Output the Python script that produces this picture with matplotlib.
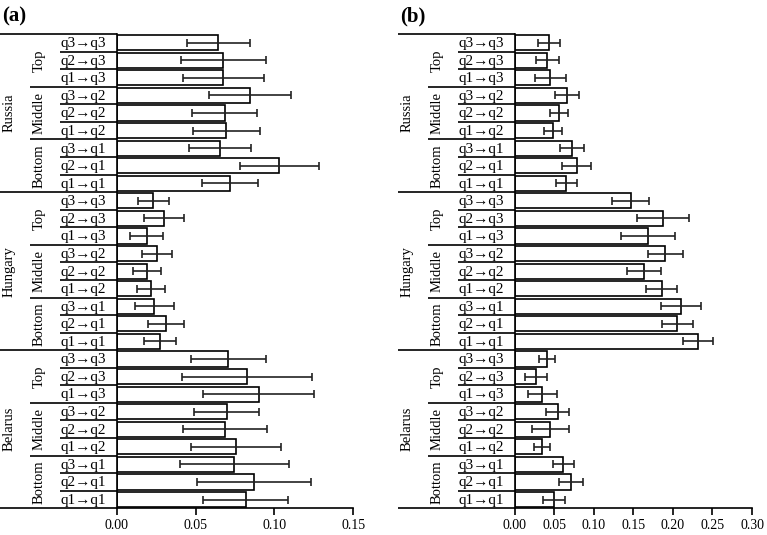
import matplotlib
matplotlib.use('Agg')
import matplotlib.pyplot as plt

plt.rcParams['font.family'] = ['Liberation Serif', 'DejaVu Serif']

# Category labels (top to bottom within each country)
transitions = ['q3→q3', 'q2→q3', 'q1→q3', 'q3→q2', 'q2→q2', 'q1→q2',
               'q3→q1', 'q2→q1', 'q1→q1']
levels = ['Top', 'Middle', 'Bottom']
countries = ['Russia', 'Hungary', 'Belarus']

# Panel (a) values and error half-widths
russia_a = [0.0645, 0.0675, 0.0675, 0.0842, 0.0685, 0.0696, 0.0655, 0.1032, 0.0719]
russia_a_err = [0.0197, 0.027, 0.0256, 0.026, 0.0207, 0.021, 0.0197, 0.025, 0.0176]
hungary_a = [0.0233, 0.030, 0.019, 0.0256, 0.0192, 0.022, 0.0239, 0.0315, 0.0275]
hungary_a_err = [0.010, 0.0127, 0.0106, 0.0097, 0.0087, 0.0089, 0.0126, 0.0114, 0.010]
belarus_a = [0.0708, 0.0827, 0.0899, 0.0698, 0.0685, 0.0759, 0.0746, 0.0869, 0.0819]
belarus_a_err = [0.024, 0.041, 0.035, 0.0207, 0.0267, 0.0285, 0.0345, 0.036, 0.027]

# Panel (b) values and error half-widths
russia_b = [0.0434, 0.0413, 0.0451, 0.0662, 0.056, 0.048, 0.0729, 0.0784, 0.0653]
russia_b_err = [0.014, 0.0147, 0.0196, 0.0148, 0.0116, 0.0114, 0.0152, 0.018, 0.013]
hungary_b = [0.1467, 0.1875, 0.169, 0.1905, 0.1635, 0.1858, 0.2103, 0.2056, 0.2314]
hungary_b_err = [0.0234, 0.033, 0.034, 0.022, 0.021, 0.0195, 0.0255, 0.0194, 0.019]
belarus_b = [0.0405, 0.027, 0.035, 0.0544, 0.0451, 0.0341, 0.0615, 0.0712, 0.0497]
belarus_b_err = [0.0103, 0.0137, 0.0183, 0.0145, 0.0232, 0.0103, 0.0135, 0.015, 0.0133]

ticks_a = [0.00, 0.05, 0.10, 0.15]
ticks_b = [0.00, 0.05, 0.10, 0.15, 0.20, 0.25, 0.30]

W, H = 767, 535
fig = plt.figure(figsize=(W / 100, H / 100), dpi=100)

LW = 1.2


def draw_panel(left_px, right_px, vals, errs, ticks, letter):
    ax = fig.add_axes([left_px / W, 26.7 / H, (right_px - left_px) / W, 474.3 / H])
    n = len(vals)
    y = list(range(n))
    ax.barh(y, vals, height=0.86, color='white', edgecolor='black', linewidth=LW)
    ax.errorbar(vals, y, xerr=errs, fmt='none', ecolor='#222222',
                elinewidth=LW, capsize=2.6, capthick=LW)
    ax.set_ylim(n - 0.5, -0.5)
    ax.set_xlim(ticks[0], ticks[-1])
    ax.set_xticks(ticks)
    ax.set_xticklabels([f'{t:.2f}' for t in ticks])
    ax.set_yticks([])
    for s in ['top', 'right']:
        ax.spines[s].set_visible(False)
    ax.spines['left'].set_linewidth(LW)
    ax.spines['bottom'].set_linewidth(LW)
    ax.tick_params(axis='x', direction='out', length=5, width=LW,
                   labelsize=10, pad=3)

    wpx = right_px - left_px
    tr = ax.get_yaxis_transform()
    fx = lambda off: -off / wpx  # pixel offset left of the axis -> axes fraction

    # separators
    for k in range(n + 1):
        yb = k - 0.5
        if k % 9 == 0:
            x0 = fx(117)
        elif k % 3 == 0:
            x0 = fx(87)
        else:
            x0 = fx(57)
        ax.plot([x0, 0], [yb, yb], transform=tr, color='black', lw=LW,
                clip_on=False, solid_capstyle='butt')

    # leaf labels
    for i in range(n):
        ax.text(fx(56.3), i + 0.05, transitions[i % 9], transform=tr,
                ha='left', va='center', fontsize=11)
    # level labels
    for g in range(n // 3):
        ax.text(fx(77.5), g * 3 + 1, levels[g % 3], transform=tr,
                ha='center', va='center', rotation=90, fontsize=10.5)
    # country labels
    for c in range(n // 9):
        ax.text(fx(107.5), c * 9 + 4, countries[c], transform=tr,
                ha='center', va='center', rotation=90, fontsize=10.5)

    fig.text((left_px - 115) / W, 1 - 16 / H, letter, fontsize=15,
             fontweight='bold', ha='left', va='center')
    return ax


vals_a = russia_a + hungary_a + belarus_a
errs_a = russia_a_err + hungary_a_err + belarus_a_err
vals_b = russia_b + hungary_b + belarus_b
errs_b = russia_b_err + hungary_b_err + belarus_b_err

draw_panel(116.7, 353.3, vals_a, errs_a, ticks_a, '(a)')
draw_panel(514.7, 752.0, vals_b, errs_b, ticks_b, '(b)')

fig.savefig('out.png', dpi=100)
